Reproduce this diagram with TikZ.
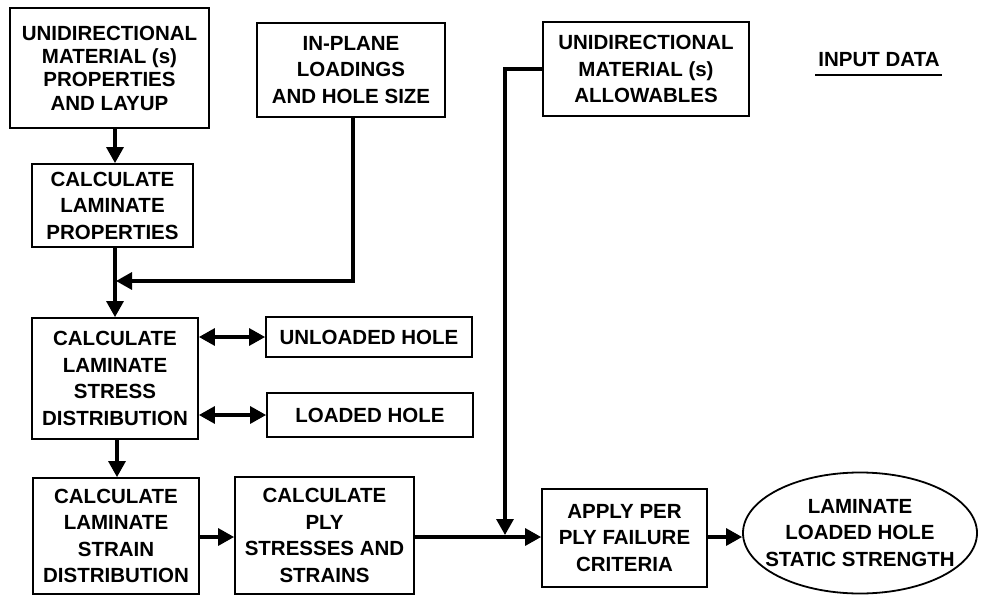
\documentclass[tikz,border=0pt]{standalone}
\usepackage{fontspec}
\setmainfont{Liberation Sans}
\usetikzlibrary{arrows.meta,shapes.geometric}
\begin{document}
\begin{tikzpicture}[x=1pt,y=-1pt,
  every node/.style={font=\fontsize{20.5}{26.5}\selectfont\bfseries, align=center, inner sep=0pt},
  box/.style={draw, line width=1.8pt, rectangle},
  oval/.style={draw, line width=1.8pt, ellipse},
  conn/.style={line width=3.2pt},
  tip/.tip={Triangle[length=16pt 0,width=17pt 0]},
  arr/.style={conn, -tip},
  darr/.style={conn, tip-tip}]
\useasboundingbox (0,0) rectangle (982,596);
% nodes
\node[box, minimum width=199pt, minimum height=120pt, font=\fontsize{20.5}{23.3}\selectfont\bfseries] (A) at (109.5,68)
  {UNIDIRECTIONAL\\MATERIAL (s)\\PROPERTIES\\AND LAYUP};
\node[box, minimum width=188pt, minimum height=94pt] (B) at (351,70)
  {IN-PLANE\\LOADINGS\\AND HOLE SIZE};
\node[box, minimum width=206pt, minimum height=94pt] (G) at (646,69)
  {UNIDIRECTIONAL\\MATERIAL (s)\\ALLOWABLES};
\node (inp) at (879,60) {INPUT DATA};
\node[box, minimum width=161pt, minimum height=83pt] (C) at (112.5,205.5)
  {CALCULATE\\LAMINATE\\PROPERTIES};
\node[box, minimum width=166pt, minimum height=121pt] (D) at (115,378.5)
  {CALCULATE\\LAMINATE\\STRESS\\DISTRIBUTION};
\node[box, minimum width=206pt, minimum height=40pt] (U) at (369,337) {UNLOADED HOLE};
\node[box, minimum width=206pt, minimum height=44pt] (L) at (370,415) {LOADED HOLE};
\node[box, minimum width=166pt, minimum height=116pt] (E) at (116,536)
  {CALCULATE\\LAMINATE\\STRAIN\\DISTRIBUTION};
\node[box, minimum width=179pt, minimum height=117pt] (F) at (324.5,535.5)
  {CALCULATE\\PLY\\STRESSES AND\\STRAINS};
\node[box, minimum width=165pt, minimum height=98pt] (H) at (624.5,538)
  {APPLY PER\\PLY FAILURE\\CRITERIA};
\node[oval, inner xsep=-14pt, inner ysep=0pt, minimum width=234pt, minimum height=121pt] (R) at (860,533)
  {LAMINATE\\LOADED HOLE\\STATIC STRENGTH};
% helper coordinates
\coordinate (sp) at (115,0);
\coordinate (j) at (115,281);
\coordinate (gx) at (505,0);
\coordinate (m) at (505,537);
% underline of INPUT DATA
\draw[line width=1.8pt] ([xshift=-3pt,yshift=-8pt]inp.south west) -- ([xshift=2pt,yshift=-8pt]inp.south east);
% connectors
\draw[arr] (A.south -| sp) -- (C.north -| sp);
\draw[conn] (C.south -| sp) -- (j);
\draw[arr] (j) -- (D.north -| sp);
\draw[arr] (B.south -| 353,0) -- (353,281) -- ([xshift=1pt]j);
\draw[darr] (D.east |- U.west) -- (U.west);
\draw[darr] (D.east |- L.west) -- (L.west);
\draw[arr] (D.south -| 117,0) -- (E.north -| 117,0);
\draw[arr] (E.east |- m) -- (F.west |- m);
\draw[arr] (F.east |- m) -- (H.west |- m);
\draw[arr, shorten >=2pt] (G.west) -- (G.west -| gx) -- (m);
\draw[arr] (H.east |- m) -- (R.west |- m);
\end{tikzpicture}
\end{document}
